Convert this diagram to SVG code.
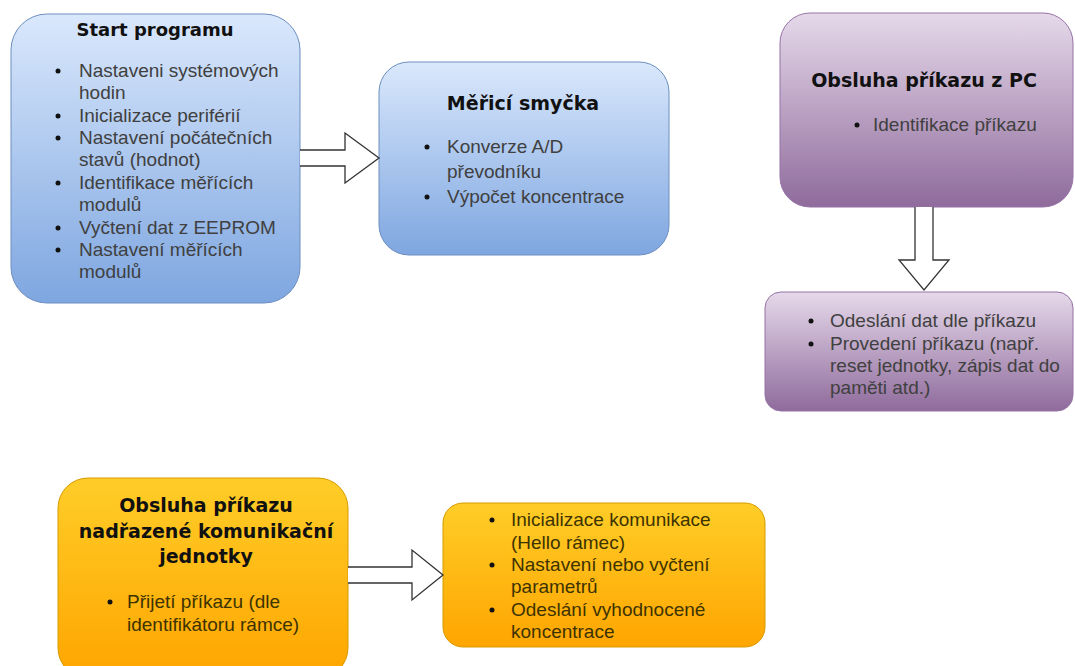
<svg xmlns="http://www.w3.org/2000/svg" width="1075" height="666" viewBox="0 0 1075 666">
<defs>
<linearGradient id="gBlue" x1="0" y1="0" x2="0" y2="1"><stop offset="0" stop-color="#dae8fc"/><stop offset="1" stop-color="#7ea6e0"/></linearGradient>
<linearGradient id="gPurple" x1="0" y1="0" x2="0" y2="1"><stop offset="0" stop-color="#e6d9ea"/><stop offset="1" stop-color="#8f6b9c"/></linearGradient>
<linearGradient id="gOrange" x1="0" y1="0" x2="0" y2="1"><stop offset="0" stop-color="#ffcd28"/><stop offset="1" stop-color="#ffa500"/></linearGradient>
<style>
.blue{fill:url(#gBlue);stroke:#6c8ebf;stroke-width:1}
.purple{fill:url(#gPurple);stroke:#9673a6;stroke-width:1}
.orange{fill:url(#gOrange);stroke:#d79b00;stroke-width:1}
.title{font-family:"DejaVu Sans",Verdana,sans-serif;font-weight:bold;font-size:19px;fill:#111;text-anchor:middle}
.body{font-family:"Liberation Sans",Arial,sans-serif;font-size:19px;fill:#404040}
.obody{font-family:"Liberation Sans",Arial,sans-serif;font-size:19px;fill:#3d3300}
.dot{fill:#111}
.arrow{fill:#fff;stroke:#333;stroke-width:1.3;stroke-linejoin:miter}
</style>
</defs>
<rect width="1075" height="666" fill="#fff"/>

<g id="start">
<rect class="blue" x="11" y="14" width="289" height="289" rx="36" ry="36"/>
<text class="title" x="155" y="36" style="font-size:18px">Start programu</text>
<g class="body">
<text x="79" y="77">Nastaveni systémových</text>
<text x="79" y="99">hodin</text>
<text x="79" y="122">Inicializace periférií</text>
<text x="79" y="144">Nastavení počátečních</text>
<text x="79" y="166">stavů (hodnot)</text>
<text x="79" y="189">Identifikace měřících</text>
<text x="79" y="211">modulů</text>
<text x="79" y="234">Vyčtení dat z EEPROM</text>
<text x="79" y="256">Nastavení měřících</text>
<text x="79" y="278">modulů</text>
</g>
<g class="dot">
<circle cx="58" cy="71" r="2.5"/><circle cx="58" cy="116" r="2.5"/><circle cx="58" cy="138" r="2.5"/><circle cx="58" cy="183" r="2.5"/><circle cx="58" cy="228" r="2.5"/><circle cx="58" cy="250" r="2.5"/>
</g>
</g>

<g id="mereni">
<rect class="blue" x="379" y="62" width="290" height="193" rx="30" ry="30"/>
<text class="title" x="523" y="110">Měřicí smyčka</text>
<g class="body">
<text x="447" y="153">Konverze A/D</text>
<text x="447" y="178">převodníku</text>
<text x="447" y="203">Výpočet koncentrace</text>
</g>
<g class="dot"><circle cx="427" cy="147" r="2.5"/><circle cx="427" cy="197" r="2.5"/></g>
</g>

<g id="pc">
<rect class="purple" x="780" y="13" width="293" height="194" rx="30" ry="30"/>
<text class="title" x="924" y="87">Obsluha příkazu z PC</text>
<text class="body" x="873" y="131">Identifikace příkazu</text>
<circle class="dot" cx="857" cy="125" r="2.5"/>
</g>

<g id="pc-akce">
<rect class="purple" x="765" y="292" width="308" height="119" rx="16" ry="16"/>
<g class="body">
<text x="830" y="327">Odeslání dat dle příkazu</text>
<text x="830" y="350">Provedení příkazu (např.</text>
<text x="830" y="372">reset jednotky, zápis dat do</text>
<text x="830" y="394">paměti atd.)</text>
</g>
<g class="dot"><circle cx="811" cy="321" r="2.5"/><circle cx="811" cy="344" r="2.5"/></g>
</g>

<g id="nadrazena">
<rect class="orange" x="58" y="478" width="290" height="200" rx="30" ry="30"/>
<text class="title" x="206" y="512">Obsluha příkazu</text>
<text class="title" x="206" y="538">nadřazené komunikační</text>
<text class="title" x="206" y="563">jednotky</text>
<g class="obody">
<text x="127" y="608">Přijetí příkazu (dle</text>
<text x="127" y="631">identifikátoru rámce)</text>
</g>
<circle class="dot" cx="110" cy="602" r="2.5"/>
</g>

<g id="komunikace">
<rect class="orange" x="443" y="503" width="322" height="144" rx="20" ry="20"/>
<g class="obody">
<text x="511" y="526">Inicializace komunikace</text>
<text x="511" y="549">(Hello rámec)</text>
<text x="511" y="571">Nastavení nebo vyčtení</text>
<text x="511" y="593">parametrů</text>
<text x="511" y="616">Odeslání vyhodnocené</text>
<text x="511" y="638">koncentrace</text>
</g>
<g class="dot"><circle cx="492" cy="520" r="2.5"/><circle cx="492" cy="565" r="2.5"/><circle cx="492" cy="610" r="2.5"/></g>
</g>

<g id="connectors">
<path class="arrow" d="M300,150 L345,150 L345,133 L379,158 L345,183 L345,166 L300,166"/>
<path class="arrow" d="M915,207 L915,260 L899,260 L924,290 L949,260 L933,260 L933,207"/>
<path class="arrow" d="M348,567 L412,567 L412,550 L443,575 L412,600 L412,583 L348,583"/>
</g>
</svg>
